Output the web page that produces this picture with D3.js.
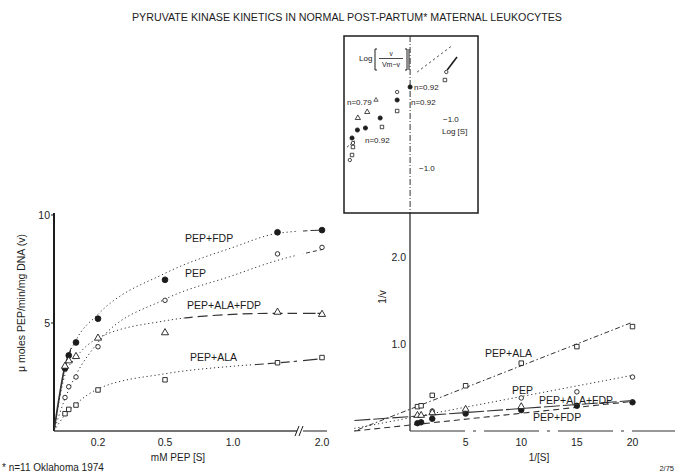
<!DOCTYPE html>
<html><head><meta charset="utf-8">
<script src="https://cdn.jsdelivr.net/npm/d3@7"></script>
<style>
body{margin:0;background:#fff}
svg{display:block}
text{font-family:"Liberation Sans",Arial,sans-serif;fill:#1c1c1c}
</style>
</head><body><svg id="c" width="675" height="473"></svg>
<script>
// ---------------- DATA ----------------
const titleText = "PYRUVATE KINASE KINETICS IN NORMAL POST-PARTUM* MATERNAL LEUKOCYTES";
const seriesNames = ["PEP+FDP", "PEP", "PEP+ALA+FDP", "PEP+ALA"];

// Left panel: v vs [S]
const concS = [0.05, 0.067, 0.1, 0.2, 0.5, 1.5, 2.0];
const vPepFdp    = [2.9, 3.5, 4.1, 5.2, 7.0, 9.2, 9.3];
const vPep       = [1.55, 2.05, 2.5, 3.9, 6.05, 8.2, 8.5];
const vPepAlaFdp = [3.0, 3.25, 3.45, 4.3, 4.55, 5.5, 5.4];
const vPepAla    = [0.8, 1.0, 1.2, 1.9, 2.37, 3.16, 3.4];

// fitted curves
const curveS = [0, 0.05, 0.1, 0.2, 0.5, 1.0, 1.5, 2.0];
const fitPepFdp    = [0, 3.0, 4.2, 5.4, 7.3, 8.5, 9.15, 9.3];
const fitPep       = [0, 1.5, 2.6, 4.1, 6.1, 7.2, 7.9, 8.4];
const fitPepAlaFdp = [0, 2.6, 3.4, 4.3, 5.1, 5.4, 5.45, 5.45];
const fitPepAla    = [0, 0.75, 1.25, 1.95, 2.65, 3.0, 3.15, 3.35];

const leftXTicks = [0.2, 0.5, 1.0, 2.0];
const leftXTickLabels = ["0.2", "0.5", "1.0", "2.0"];
const leftYTicks = [5, 10];

// Right panel: 1/v vs 1/[S]
const invS_PepFdp = [0.67, 1, 2, 5, 10, 15, 20];
const invV_PepFdp = [0.09, 0.1, 0.14, 0.2, 0.24, 0.29, 0.33];
const invS_Pep = [2, 10, 15, 20];
const invV_Pep = [0.23, 0.38, 0.45, 0.62];
const invS_PepAlaFdp = [0.67, 1, 2, 5, 10];
const invV_PepAlaFdp = [0.18, 0.18, 0.21, 0.25, 0.28];
const invS_PepAla = [0.67, 1, 2, 5, 10, 15, 20];
const invV_PepAla = [0.28, 0.29, 0.41, 0.52, 0.78, 0.97, 1.2];

// regression lines, value at 1/[S] = -5 and 20
const lineEndsX = [-5, 20];
const linePepFdp    = [0.0, 0.34];
const linePep       = [0.03, 0.64];
const linePepAlaFdp = [0.12, 0.35];
const linePepAla    = [0.0, 1.25];

const rightXTicks = [5, 10, 15, 20];
const rightYTicks = [1.0, 2.0];
const rightYTickLabels = ["1.0", "2.0"];

// Inset (Hill plot): Log[S] vs Log[v/(Vm-v)]
const hillPepFdpX = [-0.29, -0.67, -1.0, -1.18, -1.3, 0.0];
const hillPepFdpY = [0.36, 0.0, -0.2, -0.24, -0.4, 0.62];
const hillPepAlaX = [-0.29, -0.63, -1.28, -1.3, 0.78];
const hillPepAlaY = [0.14, -0.18, -0.58, -0.74, 0.76];
const hillPepAlaFdpX = [-0.96, -1.17];
const hillPepAlaFdpY = [0.12, 0.0];
const hillPepX = [-0.29, -1.28, -1.35, 0.81];
const hillPepY = [0.52, -0.5, -0.84, 0.92];
const hillLineX = [0.16, 0.96];
const hillLineY = [0.92, 1.46];
const hillArrowX = [0.83, 1.05];
const hillArrowY = [0.96, 1.22];
const hillShortX = [-1.41, -1.21];
const hillShortY = [-0.58, -0.44];
const hillNLabels = ["n=0.92", "n=0.92", "n=0.79", "n=0.92"];

// ---------------- DRAW ----------------
const svg = d3.select("#c");
const ink = "#1c1c1c";

svg.append("text").attr("x", 347).attr("y", 21).attr("text-anchor", "middle")
  .attr("font-size", 10).attr("textLength", 430).attr("lengthAdjust", "spacingAndGlyphs")
  .text(titleText);

// ===== Left panel =====
const xL = d3.scaleLinear().domain([0, 0.2, 0.5, 1.0, 2.0]).range([54, 98, 165, 233, 322]);
const yL = d3.scaleLinear().domain([0, 10]).range([431, 215]);

const gL = svg.append("g");
// axes
gL.append("line").attr("x1", xL(0)).attr("x2", xL(0)).attr("y1", yL(0)).attr("y2", yL(10) - 2)
  .attr("stroke", ink).attr("stroke-width", 2);
leftYTicks.forEach(t => {
  gL.append("line").attr("x1", xL(0) - 3).attr("x2", xL(0)).attr("y1", yL(t)).attr("y2", yL(t)).attr("stroke", ink);
  gL.append("text").attr("x", 50).attr("y", yL(t) + 4).attr("text-anchor", "end").attr("font-size", 10.5).text(t);
});
gL.append("line").attr("x1", xL(0)).attr("x2", 297).attr("y1", yL(0)).attr("y2", yL(0))
  .attr("stroke", "#444").attr("stroke-width", 1.5);
gL.append("line").attr("x1", 303).attr("x2", 327).attr("y1", yL(0)).attr("y2", yL(0))
  .attr("stroke", "#444").attr("stroke-width", 1.2);
// break marks
[297, 301].forEach(bx => gL.append("line").attr("x1", bx - 2).attr("x2", bx + 2)
  .attr("y1", yL(0) + 5).attr("y2", yL(0) - 5).attr("stroke", ink).attr("stroke-width", 1));
leftXTicks.forEach((t, i) => {
  gL.append("text").attr("x", xL(t)).attr("y", 446).attr("text-anchor", "middle")
    .attr("font-size", 10.5).text(leftXTickLabels[i]);
});
gL.append("text").attr("x", 178).attr("y", 461).attr("text-anchor", "middle").attr("font-size", 10).text("mM PEP [S]");
gL.append("text").attr("transform", "translate(25,303) rotate(-90)").attr("text-anchor", "middle")
  .attr("font-size", 10.5).text("μ moles PEP/min/mg DNA (v)");

// clip regions for line styles
const defs = svg.append("defs");
function clipRect(id, x0, x1) {
  defs.append("clipPath").attr("id", id).append("rect").attr("x", x0).attr("y", 0).attr("width", x1 - x0).attr("height", 473);
  return "url(#" + id + ")";
}
const lineGen = d3.line().x(d => xL(d[0])).y(d => yL(d[1])).curve(d3.curveMonotoneX);

const leftSeries = [
  {name: seriesNames[0], v: vPepFdp, fit: fitPepFdp, sym: d3.symbolCircle, fill: true, size: 26,
   segs: [[54, 71, null, 1.7], [71, 297, "1.2,2.8", 1], [303, 330, "9,3", 1.1]]},
  {name: seriesNames[1], v: vPep, fit: fitPep, sym: d3.symbolCircle, fill: false, size: 16,
   segs: [[54, 297, "1.2,2.8", 1], [303, 330, "4,3", 1]]},
  {name: seriesNames[2], v: vPepAlaFdp, fit: fitPepAlaFdp, sym: d3.symbolTriangle, fill: false, size: 22,
   segs: [[54, 185, "1.2,2.8", 1], [185, 297, "10,5", 1.2], [303, 330, "20,2", 1.3]]},
  {name: seriesNames[3], v: vPepAla, fit: fitPepAla, sym: d3.symbolSquare, fill: false, size: 20,
   segs: [[54, 250, "1.2,2.8", 1], [250, 297, "9,4", 1.2], [303, 330, "20,2", 1.2]]}
];
leftSeries.forEach((s, si) => {
  const pts = curveS.map((x, i) => [x, s.fit[i]]);
  s.segs.forEach((sg, k) => {
    const p = gL.append("path").attr("d", lineGen(pts)).attr("fill", "none")
      .attr("stroke", "#333").attr("stroke-width", sg[3])
      .attr("clip-path", clipRect("cl" + si + "_" + k, sg[0], sg[1]));
    if (sg[2]) p.attr("stroke-dasharray", sg[2]);
  });
  concS.forEach((x, i) => {
    gL.append("path").attr("d", d3.symbol(s.sym, s.size)())
      .attr("transform", `translate(${xL(x)},${yL(s.v[i])})`)
      .attr("fill", s.fill ? ink : "#fff").attr("stroke", ink).attr("stroke-width", 0.9);
  });
});
const leftLabelPos = [[185, 242], [185, 277], [187, 309], [190, 361]];
seriesNames.forEach((n, i) => gL.append("text").attr("x", leftLabelPos[i][0]).attr("y", leftLabelPos[i][1])
  .attr("font-size", 10.5).text(n));

// ===== Right panel =====
const xR = d3.scaleLinear().domain([0, 20]).range([410, 632.5]);
const yR = d3.scaleLinear().domain([0, 2]).range([431, 257]);
const gR = svg.append("g");
gR.append("line").attr("x1", xR(0)).attr("x2", xR(0)).attr("y1", 213).attr("y2", yR(0))
  .attr("stroke", ink).attr("stroke-width", 1.2);
gR.append("line").attr("x1", xR(0)).attr("x2", 675).attr("y1", yR(0)).attr("y2", yR(0))
  .attr("stroke", "#333").attr("stroke-width", 1.2).attr("stroke-dasharray", "55,8,3,8");
rightXTicks.forEach(t => gR.append("text").attr("x", xR(t)).attr("y", 446).attr("text-anchor", "middle")
  .attr("font-size", 10.5).text(t));
rightYTicks.forEach((t, i) => gR.append("text").attr("x", 406).attr("y", yR(t) + 4).attr("text-anchor", "end")
  .attr("font-size", 10.5).text(rightYTickLabels[i]));
gR.append("text").attr("x", 539).attr("y", 461).attr("text-anchor", "middle").attr("font-size", 10).text("1/[S]");
gR.append("text").attr("transform", "translate(386,297) rotate(-90)").attr("text-anchor", "middle")
  .attr("font-size", 10).text("1/v");

const rightSeries = [
  {xs: invS_PepFdp, ys: invV_PepFdp, line: linePepFdp, sym: d3.symbolCircle, fill: true, size: 24, dash: "6,4", w: 1.1},
  {xs: invS_Pep, ys: invV_Pep, line: linePep, sym: d3.symbolCircle, fill: false, size: 16, dash: "1.2,2.8", w: 1},
  {xs: invS_PepAlaFdp, ys: invV_PepAlaFdp, line: linePepAlaFdp, sym: d3.symbolTriangle, fill: false, size: 20, dash: "16,3", w: 1.1},
  {xs: invS_PepAla, ys: invV_PepAla, line: linePepAla, sym: d3.symbolSquare, fill: false, size: 20, dash: "1.5,2.5,5,2.5", w: 1}
];
const rLine = d3.line().x(d => xR(d[0])).y(d => yR(d[1]));
rightSeries.forEach(s => {
  gR.append("path").attr("d", rLine(lineEndsX.map((x, i) => [x, s.line[i]]))).attr("fill", "none")
    .attr("stroke", "#333").attr("stroke-width", s.w).attr("stroke-dasharray", s.dash);
  s.xs.forEach((x, i) => gR.append("path").attr("d", d3.symbol(s.sym, s.size)())
    .attr("transform", `translate(${xR(x)},${yR(s.ys[i])})`)
    .attr("fill", s.fill ? ink : "#fff").attr("stroke", ink).attr("stroke-width", 0.9));
});
const rightLabelPos = [[533, 421], [512, 394], [539, 404], [485, 357]];
seriesNames.forEach((n, i) => gR.append("text").attr("x", rightLabelPos[i][0]).attr("y", rightLabelPos[i][1])
  .attr("font-size", 10.5).text(n));

// ===== Inset (Hill plot) =====
const xH = d3.scaleLinear().domain([-1.48, 1.52]).range([344, 478]);
const yH = d3.scaleLinear().domain([-1.9, 1.64]).range([213, 36]);
const gH = svg.append("g");
gH.append("rect").attr("x", 344).attr("y", 36).attr("width", 134).attr("height", 177)
  .attr("fill", "#fff").attr("stroke", ink).attr("stroke-width", 1.5);
gH.append("line").attr("x1", xH(0)).attr("x2", xH(0)).attr("y1", 36).attr("y2", 213)
  .attr("stroke", "#333").attr("stroke-width", 1).attr("stroke-dasharray", "6,2,1,2");
const hLine = d3.line().x(d => xH(d[0])).y(d => yH(d[1]));
gH.append("path").attr("d", hLine(hillLineX.map((x, i) => [x, hillLineY[i]]))).attr("fill", "none")
  .attr("stroke", "#333").attr("stroke-dasharray", "2,3");
gH.append("path").attr("d", hLine(hillArrowX.map((x, i) => [x, hillArrowY[i]]))).attr("fill", "none")
  .attr("stroke", ink).attr("stroke-width", 1.6);
gH.append("path").attr("d", hLine(hillShortX.map((x, i) => [x, hillShortY[i]]))).attr("fill", "none")
  .attr("stroke", "#333").attr("stroke-dasharray", "2,2");
const hillSeries = [
  {xs: hillPepFdpX, ys: hillPepFdpY, sym: d3.symbolCircle, fill: true, size: 14},
  {xs: hillPepAlaX, ys: hillPepAlaY, sym: d3.symbolSquare, fill: false, size: 12},
  {xs: hillPepAlaFdpX, ys: hillPepAlaFdpY, sym: d3.symbolTriangle, fill: false, size: 12},
  {xs: hillPepX, ys: hillPepY, sym: d3.symbolCircle, fill: false, size: 9}
];
hillSeries.forEach(s => s.xs.forEach((x, i) => gH.append("path").attr("d", d3.symbol(s.sym, s.size)())
  .attr("transform", `translate(${xH(x)},${yH(s.ys[i])})`)
  .attr("fill", s.fill ? ink : "#fff").attr("stroke", ink).attr("stroke-width", 0.8)));

// inset labels
gH.append("text").attr("x", 359).attr("y", 61).attr("font-size", 8).text("Log");
gH.append("path").attr("d", "M377,49 h-2 v21 h2 M405,49 h2 v21 h-2 M409,49 v21")
  .attr("fill", "none").attr("stroke", ink).attr("stroke-width", 1);
gH.append("text").attr("x", 391).attr("y", 56).attr("text-anchor", "middle").attr("font-size", 6.5).text("v");
gH.append("line").attr("x1", 379).attr("x2", 403).attr("y1", 58.5).attr("y2", 58.5).attr("stroke", ink).attr("stroke-width", 0.8);
gH.append("text").attr("x", 391).attr("y", 67).attr("text-anchor", "middle").attr("font-size", 7).text("Vm−v");
const nPos = [[414, 90], [411, 105], [347, 105], [365, 143]];
hillNLabels.forEach((t, i) => gH.append("text").attr("x", nPos[i][0]).attr("y", nPos[i][1]).attr("font-size", 8).text(t));
gH.append("path").attr("d", d3.symbol(d3.symbolTriangle, 8)()).attr("transform", "translate(376,100)")
  .attr("fill", "#fff").attr("stroke", ink).attr("stroke-width", 0.7);
gH.append("text").attr("x", 443).attr("y", 122).attr("font-size", 8).text("−1.0");
gH.append("text").attr("x", 442).attr("y", 134).attr("font-size", 8).text("Log [S]");
gH.append("text").attr("x", 419).attr("y", 171).attr("font-size", 8).text("−1.0");

// footnotes
svg.append("text").attr("x", 2).attr("y", 471).attr("font-size", 10).text("* n=11  Oklahoma 1974");
svg.append("text").attr("x", 674).attr("y", 471).attr("text-anchor", "end").attr("font-size", 7.5).text("2/75");
</script>
</body></html>
